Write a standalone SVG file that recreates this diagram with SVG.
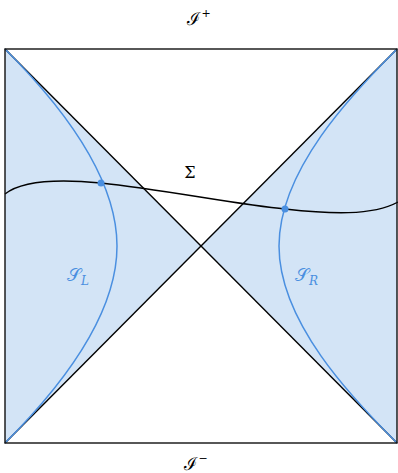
<svg xmlns="http://www.w3.org/2000/svg" width="398" height="473" viewBox="0 0 398 473">
<style>
.fill{fill:#d3e4f6;stroke:none}
.frame{fill:none;stroke:#111;stroke-width:1.4}
.blk{fill:none;stroke:#000;stroke-width:1.4}
.blue{fill:none;stroke:#4a8fe0;stroke-width:1.5}
.dot{fill:#4a8fe0}
.lbl{font-family:"DejaVu Serif","Liberation Serif",serif;fill:#000}
.blbl{font-family:"DejaVu Serif","Liberation Serif",serif;fill:#4a8fe0}
.sub{font-style:italic;font-size:12px}
</style>
<rect width="398" height="473" fill="#fff"/>
<g id="regions">
<polygon class="fill" points="5,49 201,246 5,443"/>
<polygon class="fill" points="397,49 201,246 397,443"/>
</g>
<g id="connectors">
<line class="blk" x1="5" y1="49" x2="397" y2="443"/>
<line class="blk" x1="397" y1="49" x2="5" y2="443"/>
<path class="blue" d="M5,49 C50,94 117,170 117,246 S50,398 5,443"/>
<path class="blue" d="M397,49 C352,94 279,170 279,246 S352,398 397,443"/>
<path class="blk" d="M5,194 C25,178 70,180 101,183 C160,189 240,205 285,209 C330,214 372,216 398,202"/>
</g>
<g id="frame"><rect class="frame" x="5" y="49" width="392" height="394"/></g>
<g id="pointL"><circle class="dot" cx="101" cy="183" r="3.5"/></g>
<g id="pointR"><circle class="dot" cx="285" cy="209" r="3.5"/></g>
<g id="labels">
<text class="lbl" x="190" y="178" font-size="16" text-anchor="middle">Σ</text>
<text class="lbl" x="199" y="25" font-size="18" text-anchor="middle">ℐ<tspan font-size="11" dx="1" dy="-8">+</tspan></text>
<text class="lbl" x="196" y="470" font-size="18" text-anchor="middle">ℐ<tspan font-size="11" dx="1" dy="-8">−</tspan></text>
<text class="blbl" x="67" y="281" font-size="18">𝒮<tspan class="sub" dy="4">L</tspan></text>
<text class="blbl" x="295" y="281" font-size="18">𝒮<tspan class="sub" dy="4">R</tspan></text>
</g>
</svg>
